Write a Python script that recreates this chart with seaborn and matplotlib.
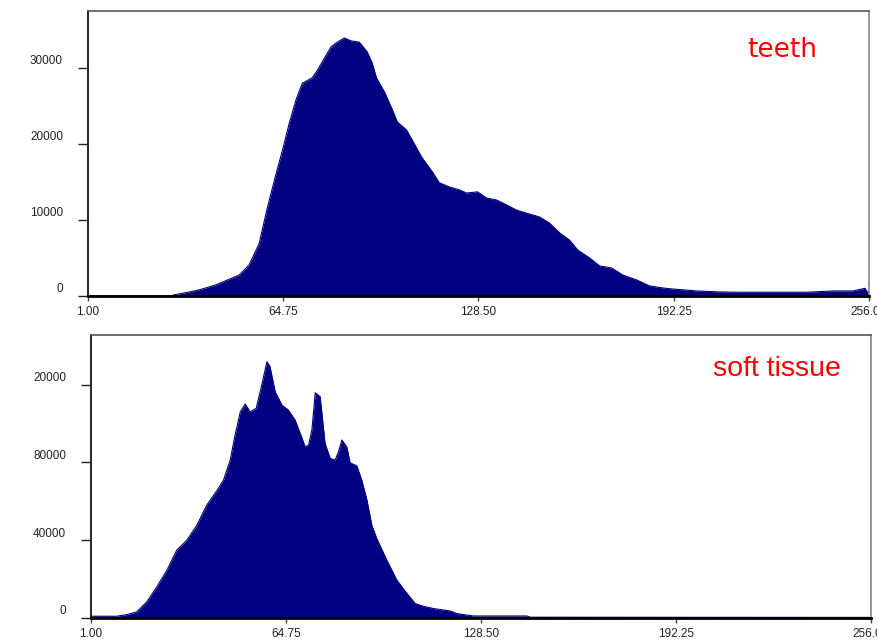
"""
plot.py
Grey-level histograms of a dental CT: teeth vs soft tissue
"""

import matplotlib
matplotlib.use('Agg')
import matplotlib.pyplot as plt
from matplotlib.transforms import ScaledTranslation
import pandas as pd
import seaborn as sns

sns.set_theme(style='white')
plt.rcParams['font.family'] = ['Liberation Sans', 'DejaVu Sans']

# Data (grey value -> voxel count)
teeth_x = [1, 28, 29.1, 32.9, 37.3, 42.7, 48.1, 50.4, 53.6, 56.9, 59.5, 62.5, 64.4, 66.7, 69.0,
           71.0, 74.2, 75.9, 78.2, 80.4, 82.4, 84.7, 87.0, 89.6, 92.2, 93.8, 95.2,
           97.8, 100.4, 102.0, 105.0, 106.9, 109.9, 113.5, 115.7, 119.0, 122.3,
           124.6, 128.2, 131.1, 134.4, 137.7, 140.9, 144.2, 148.4, 151.7, 155.0,
           158.2, 160.9, 164.8, 168.1, 172.0, 175.6, 180.2, 184.4, 188.7, 191.9,
           199.8, 207.3, 213.8, 224.6, 235.7, 244.2, 250.8, 254.7, 255.7, 256]
teeth_counts = [0, 0, 150, 430, 800, 1450, 2370, 2760, 4080, 6900, 11500, 16200, 19000, 22700, 25900,
                28000, 28700, 29700, 31300, 32800, 33400, 33950, 33560, 33400, 32100, 30660, 28700,
                26850, 24500, 22900, 21850, 20500, 18300, 16300, 14900, 14350, 13950,
                13550, 13700, 12900, 12630, 11980, 11300, 10900, 10400, 9600, 8300,
                7370, 6050, 5000, 3950, 3680, 2760, 2100, 1320, 1050, 920,
                660, 530, 490, 490, 490, 660, 660, 1010, 400, 300]

soft_x = [1, 9.4, 12.7, 15.9, 19.2, 22.5, 25.8, 29.0, 32.3, 35.6, 38.8, 42.1, 44.3,
          46.5, 48.1, 49.8, 51.4, 53.0, 55.0, 56.8, 58.5, 59.5, 61.2, 63.4, 65.5,
          67.7, 69.4, 71.0, 72.1, 73.2, 74.3, 75.9, 77.5, 79.2, 80.8, 81.9, 83.0,
          84.6, 85.7, 87.9, 89.5, 91.2, 92.8, 94.4, 97.7, 101.0, 104.3, 107.0,
          109.7, 113.0, 118.4, 120.6, 126.0, 143.5, 144.6, 256]
soft_counts = [900, 900, 1750, 3100, 8240, 16000, 24560, 34850, 40000, 47700, 58000, 65400, 70900,
               81200, 94100, 106000, 110000, 106000, 107800, 119800, 131800, 129200, 116300, 109500, 106900,
               101800, 94900, 88000, 88900, 96600, 115800, 113800, 89800, 82000, 81200, 85500, 91500,
               88000, 79800, 78200, 70900, 60600, 47700, 40900, 29700, 19400, 12600, 7400,
               6000, 4840, 3600, 2260, 1030, 1030, 400, 300]

x_ticks = [1, 64.75, 128.5, 192.25, 256]
x_labels = ['1.00', '64.75', '128.50', '192.25', '256.00']
teeth_yticks = [0, 10000, 20000, 30000]
teeth_ylabels = ['0', '10000', '20000', '30000']
soft_yticks = [0, 40000, 80000, 120000]
soft_ylabels = ['0', '40000', '80000', '20000']

teeth_df = pd.DataFrame({'grey': teeth_x, 'count': teeth_counts})
soft_df = pd.DataFrame({'grey': soft_x, 'count': soft_counts})

NAVY = '#000080'

fig = plt.figure(figsize=(8.77, 6.43), dpi=100)
ax_top = fig.add_axes([0.1003, 0.5397, 0.8905, 0.4432])
ax_bot = fig.add_axes([0.1038, 0.0389, 0.8894, 0.4401])

panels = [
    (ax_top, teeth_df, teeth_yticks, teeth_ylabels, 37500, 'teeth', 0.889, 0.862, 'DejaVu Sans', 19),
    (ax_bot, soft_df, soft_yticks, soft_ylabels, 145500, 'soft tissue', 0.880, 0.880, 'Liberation Sans', 20.5),
]

for ax, df, yt, yl, ytop, name, tx, ty, fam, fs in panels:
    sns.lineplot(data=df, x='grey', y='count', color=NAVY, linewidth=0.8, ax=ax)
    ax.fill_between(df['grey'], df['count'], color=NAVY, linewidth=0)
    ax.set_xlim(1, 256)
    ax.set_ylim(0, ytop)
    ax.set_xlabel('')
    ax.set_ylabel('')
    ax.set_xticks(x_ticks)
    ax.set_xticklabels(x_labels)
    ax.set_yticks(yt)
    ax.set_yticklabels(yl)
    ax.tick_params(axis='y', direction='out', length=7, width=1, color='#222222',
                   pad=11, labelsize=8.5, labelcolor='#222222', left=True)
    ax.tick_params(axis='x', direction='out', length=3.5, width=1, color='#444444',
                   pad=4, labelsize=8.5, labelcolor='#222222', bottom=True)
    # labels in the original sit a bit above their ticks
    for lab in ax.get_yticklabels():
        lab.set_transform(lab.get_transform() + ScaledTranslation(0, 0.08, fig.dpi_scale_trans))
    for side in ['left', 'bottom']:
        ax.spines[side].set_color('black')
    ax.spines['left'].set_linewidth(1.2)
    ax.spines['bottom'].set_linewidth(2)
    ax.spines['top'].set_color('#555555')
    ax.spines['right'].set_color('#888888')
    ax.spines['top'].set_linewidth(1.2)
    ax.spines['right'].set_linewidth(1.2)
    ax.text(tx, ty, name, transform=ax.transAxes, color='red', fontsize=fs,
            ha='center', va='center', family=fam)

fig.savefig('out.png', dpi=100)
plt.close(fig)
